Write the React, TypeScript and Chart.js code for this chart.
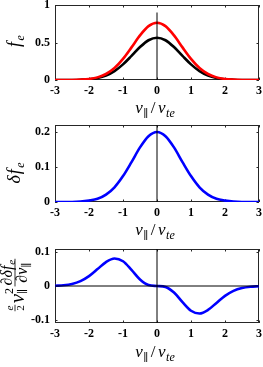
import React, { useEffect, useRef } from 'react';
import { Chart, registerables } from 'chart.js';
Chart.register(...registerables);

// ---------- data ----------
const vGrid = [-3, -2.75, -2.5, -2.25, -2, -1.75, -1.5, -1.25, -1, -0.75, -0.5, -0.25, 0, 0.25, 0.5, 0.75, 1, 1.25, 1.5, 1.75, 2, 2.25, 2.5, 2.75, 3];
const fMaxwell = [0, 0, 0.001, 0.004, 0.01, 0.026, 0.059, 0.118, 0.208, 0.321, 0.439, 0.53, 0.564, 0.53, 0.439, 0.321, 0.208, 0.118, 0.059, 0.026, 0.01, 0.004, 0.001, 0, 0];
const fTotal = [0, 0, 0.001, 0.005, 0.014, 0.035, 0.08, 0.16, 0.282, 0.435, 0.595, 0.718, 0.764, 0.718, 0.595, 0.435, 0.282, 0.16, 0.08, 0.035, 0.014, 0.005, 0.001, 0, 0];
const deltaF = [0, 0, 0, 0.001, 0.004, 0.009, 0.021, 0.042, 0.074, 0.114, 0.156, 0.188, 0.2, 0.188, 0.156, 0.114, 0.074, 0.042, 0.021, 0.009, 0.004, 0.001, 0, 0, 0];
const fluxTerm = [0.0007, 0.0022, 0.006, 0.0144, 0.0293, 0.0502, 0.0712, 0.0819, 0.0736, 0.0481, 0.0195, 0.0029, 0, -0.0029, -0.0195, -0.0481, -0.0736, -0.0819, -0.0712, -0.0502, -0.0293, -0.0144, -0.006, -0.0022, -0.0007];

const xTicks = [-3, -2, -1, 0, 1, 2, 3];
const yTicks1 = [0, 0.5, 1];
const yTicks2 = [0, 0.1, 0.2];
const yTicks3 = [-0.1, 0, 0.1];

const zeroLine1 = [{ x: 0, y: 0 }, { x: 0, y: 0.9 }];
const zeroLine2 = [{ x: 0, y: 0 }, { x: 0, y: 0.22 }];
const zeroLine3v = [{ x: 0, y: -0.11 }, { x: 0, y: 0.11 }];
const zeroLine3h = [{ x: -3, y: 0 }, { x: 3, y: 0 }];

// ---------- helpers ----------
const SERIF = '"Liberation Serif", "DejaVu Serif", serif';
const tickFont = { family: SERIF, size: 12, weight: 'bold' as const };

type Txt = { t: string; size: number; italic?: boolean; dy?: number; dx?: number };
type Frac = { num: Txt[]; den: Txt[]; bar: number; numY: number; denY: number; pad?: number };
type Item = Txt | Frac | { stack: Txt[]; gap?: number };

function fontOf(p: Txt) {
  return `${p.italic ? 'italic ' : ''}${p.size}px ${SERIF}`;
}
function txtWidth(ctx: CanvasRenderingContext2D, parts: Txt[]) {
  let w = 0;
  for (const p of parts) {
    ctx.font = fontOf(p);
    w += ctx.measureText(p.t).width + (p.dx || 0);
  }
  return w;
}
function drawTxt(ctx: CanvasRenderingContext2D, parts: Txt[], x: number, y: number) {
  let cx = x;
  for (const p of parts) {
    ctx.font = fontOf(p);
    cx += p.dx || 0;
    ctx.fillText(p.t, cx, y + (p.dy || 0));
    cx += ctx.measureText(p.t).width;
  }
}
function itemWidth(ctx: CanvasRenderingContext2D, it: Item): number {
  if ('num' in it) return Math.max(txtWidth(ctx, it.num), txtWidth(ctx, it.den)) + 2 * (it.pad ?? 1);
  if ('stack' in it) return Math.max(...it.stack.map((s) => txtWidth(ctx, [s]))) + (it.gap ?? 0);
  return txtWidth(ctx, [it]);
}
function drawItems(ctx: CanvasRenderingContext2D, items: Item[], x: number, y: number) {
  let cx = x;
  for (const it of items) {
    const w = itemWidth(ctx, it);
    if ('num' in it) {
      const nw = txtWidth(ctx, it.num);
      const dw = txtWidth(ctx, it.den);
      drawTxt(ctx, it.num, cx + (w - nw) / 2, y + it.numY);
      drawTxt(ctx, it.den, cx + (w - dw) / 2, y + it.denY);
      ctx.fillRect(cx, y + it.bar - 0.4, w, 0.8);
    } else if ('stack' in it) {
      for (const s of it.stack) drawTxt(ctx, [s], cx, y);
    } else {
      drawTxt(ctx, [it], cx, y);
    }
    cx += w;
  }
}
function itemsWidth(ctx: CanvasRenderingContext2D, items: Item[]) {
  return items.reduce((a, it) => a + itemWidth(ctx, it), 0);
}

const xLabel: Item[] = [
  { t: 'v', size: 17, italic: true },
  { t: '∥', size: 11, dy: 4, dx: 0.5 },
  { t: '/', size: 17, dx: 2.5 },
  { t: 'v', size: 17, italic: true, dx: 2.5 },
  { t: 'te', size: 12, italic: true, dy: 4, dx: 0.5 },
];
const yLabel1: Item[] = [
  { t: 'f', size: 18, italic: true },
  { t: 'e', size: 12, italic: true, dy: 4, dx: 1.5 },
];
const yLabel2: Item[] = [
  { t: 'δ', size: 18, italic: true },
  { t: 'f', size: 18, italic: true, dx: 1 },
  { t: 'e', size: 12, italic: true, dy: 4, dx: 1.5 },
];
const yLabel3: Item[] = [
  { num: [{ t: 'e', size: 11, italic: true }], den: [{ t: '2', size: 11 }], bar: -9, numY: -11, denY: -0.5, pad: 0.5 },
  { t: 'v', size: 21, italic: true, dx: 1.5 },
  { stack: [{ t: '2', size: 12, dy: -11 }, { t: '∥', size: 11, dy: 2 }], gap: 1.5 },
  {
    num: [{ t: '∂', size: 16, italic: true }, { t: 'δ', size: 16, italic: true }, { t: 'f', size: 16, italic: true }, { t: 'e', size: 11, italic: true, dy: 3, dx: 1 }],
    den: [{ t: '∂', size: 16, italic: true }, { t: 'v', size: 16, italic: true }, { t: '∥', size: 11, dy: 3 }],
    bar: -9,
    numY: -12,
    denY: 2.5,
    pad: 1,
  },
];

type PanelCfg = {
  top: number;
  height: number;
  padTop: number;
  xAxisH: number;
  yMin: number;
  yMax: number;
  yTicks: number[];
  datasets: any[];
  xLabelBaseline: number;
  yLabel: Item[];
  yLabelX: number;
  yLabelCY: number;
};

const framePlugin = {
  id: 'mframe',
  beforeDatasetsDraw(chart: any) {
    const { ctx, chartArea: a, scales } = chart;
    ctx.save();
    ctx.strokeStyle = '#262626';
    ctx.lineWidth = 1;
    ctx.strokeRect(a.left + 0.5, a.top + 0.5, a.right - a.left - 1, a.bottom - a.top - 1);
    const tl = 2.5;
    ctx.beginPath();
    for (const v of xTicks) {
      const px = Math.round(scales.x.getPixelForValue(v)) + 0.5;
      ctx.moveTo(px, a.bottom);
      ctx.lineTo(px, a.bottom - tl);
      ctx.moveTo(px, a.top);
      ctx.lineTo(px, a.top + tl);
    }
    for (const t of scales.y.ticks) {
      const py = Math.round(scales.y.getPixelForValue(t.value)) + 0.5;
      ctx.moveTo(a.left, py);
      ctx.lineTo(a.left + tl, py);
      ctx.moveTo(a.right, py);
      ctx.lineTo(a.right - tl, py);
    }
    ctx.stroke();
    ctx.restore();
  },
  afterDraw(chart: any) {
    const cfg: PanelCfg = chart.options.plugins.mframe.cfg;
    const { ctx, chartArea: a } = chart;
    ctx.save();
    ctx.fillStyle = '#000';
    ctx.textBaseline = 'alphabetic';
    ctx.textAlign = 'left';
    const xw = itemsWidth(ctx, xLabel);
    drawItems(ctx, xLabel, (a.left + a.right) / 2 - xw / 2 - 2, cfg.xLabelBaseline);
    const yw = itemsWidth(ctx, cfg.yLabel);
    ctx.translate(cfg.yLabelX, cfg.yLabelCY);
    ctx.rotate(-Math.PI / 2);
    drawItems(ctx, cfg.yLabel, -yw / 2, 0);
    ctx.restore();
  },
};

const zeroPad = (s: any) => {
  s.paddingTop = 0;
  s.paddingBottom = 0;
  s.paddingLeft = 0;
  s.paddingRight = 0;
};

function Panel({ cfg }: { cfg: PanelCfg }) {
  const ref = useRef<HTMLCanvasElement | null>(null);
  useEffect(() => {
    if (!ref.current) return;
    const chart = new Chart(ref.current, {
      type: 'line',
      data: { datasets: cfg.datasets },
      plugins: [framePlugin],
      options: {
        animation: false,
        responsive: false,
        maintainAspectRatio: false,
        devicePixelRatio: 1,
        layout: { padding: { top: cfg.padTop, right: 4, left: 0, bottom: 0 } },
        plugins: { legend: { display: false }, tooltip: { enabled: false }, mframe: { cfg } } as any,
        elements: { point: { radius: 0 } },
        scales: {
          x: {
            type: 'linear',
            min: -3,
            max: 3,
            afterBuildTicks: (s: any) => {
              s.ticks = xTicks.map((v) => ({ value: v }));
            },
            afterFit: (s: any) => {
              s.height = cfg.xAxisH;
              zeroPad(s);
            },
            grid: { display: false, drawTicks: false },
            border: { display: false },
            ticks: { font: tickFont, color: '#000', padding: 4, maxRotation: 0, autoSkip: false, callback: (v: any) => String(v) },
          },
          y: {
            type: 'linear',
            min: cfg.yMin,
            max: cfg.yMax,
            afterBuildTicks: (s: any) => {
              s.ticks = cfg.yTicks.map((v) => ({ value: v }));
            },
            afterFit: (s: any) => {
              s.width = 55;
              zeroPad(s);
            },
            grid: { display: false, drawTicks: false },
            border: { display: false },
            ticks: { font: tickFont, color: '#000', padding: 5, autoSkip: false, callback: (v: any) => String(v) },
          },
        },
      },
    });
    return () => chart.destroy();
  }, []);
  return (
    <canvas
      ref={ref}
      width={263}
      height={cfg.height}
      style={{ position: 'absolute', left: 0, top: cfg.top, width: 263, height: cfg.height }}
    />
  );
}

const curve = (data: number[], color: string) => ({
  data: vGrid.map((v, i) => ({ x: v, y: data[i] })),
  borderColor: color,
  borderWidth: 2.6,
  pointRadius: 0,
  fill: false,
  cubicInterpolationMode: 'monotone',
});
const refLine = (pts: { x: number; y: number }[]) => ({
  data: pts,
  borderColor: '#000',
  borderWidth: 1,
  pointRadius: 0,
  fill: false,
});

const panels: PanelCfg[] = [
  {
    top: 0,
    height: 120,
    padTop: 5,
    xAxisH: 40,
    yMin: 0,
    yMax: 1,
    yTicks: yTicks1,
    datasets: [refLine(zeroLine1), curve(fTotal, '#ff0000'), curve(fMaxwell, '#000000')],
    xLabelBaseline: 113,
    yLabel: yLabel1,
    yLabelX: 20,
    yLabelCY: 41,
  },
  {
    top: 120,
    height: 122,
    padTop: 5,
    xAxisH: 40,
    yMin: 0,
    yMax: 0.22,
    yTicks: yTicks2,
    datasets: [refLine(zeroLine2), curve(deltaF, '#0000ff')],
    xLabelBaseline: 115,
    yLabel: yLabel2,
    yLabelX: 20,
    yLabelCY: 53,
  },
  {
    top: 242,
    height: 125,
    padTop: 7,
    xAxisH: 44,
    yMin: -0.11,
    yMax: 0.11,
    yTicks: yTicks3,
    datasets: [refLine(zeroLine3v), refLine(zeroLine3h), curve(fluxTerm, '#0000ff')],
    xLabelBaseline: 115,
    yLabel: yLabel3,
    yLabelX: 24,
    yLabelCY: 43,
  },
];

export default function App() {
  return (
    <div style={{ position: 'absolute', left: 0, top: 0, width: 263, height: 367, background: '#fff', overflow: 'hidden' }}>
      {panels.map((p, i) => (
        <Panel key={i} cfg={p} />
      ))}
    </div>
  );
}
